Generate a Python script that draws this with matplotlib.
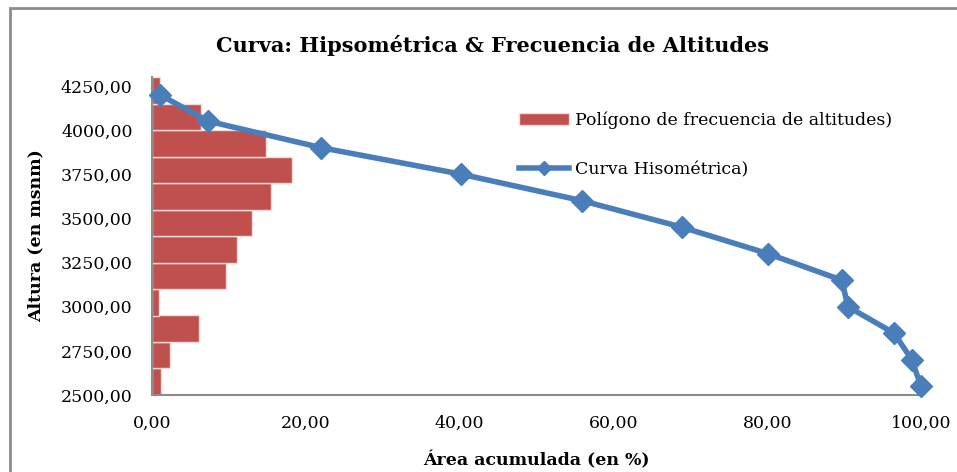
import numpy as np
import matplotlib.pyplot as plt
from matplotlib.patches import Rectangle
from matplotlib.ticker import FuncFormatter

# bins de altitud (centro de cada franja de 150 m) y % de area en cada una
alt_bins = [2575, 2725, 2875, 3025, 3175, 3325, 3475, 3625, 3775, 3925, 4075, 4225]
frec_pct = [1.2, 2.4, 6.1, 0.9, 9.6, 11.1, 13.0, 15.5, 18.2, 14.8, 6.4, 1.0]

# curva hipsometrica
area_acum = [1.0, 7.3, 22.0, 40.2, 55.9, 68.9, 80.1, 89.7, 90.5, 96.5, 98.8, 100.0]
altura = [4200, 4050, 3900, 3750, 3600, 3450, 3300, 3150, 3000, 2850, 2700, 2550]

yticks = [2500, 2750, 3000, 3250, 3500, 3750, 4000, 4250]
xticks = [0, 20, 40, 60, 80, 100]

plt.rcParams['font.family'] = ['DejaVu Serif']

W, H = 957, 472
fig = plt.figure(figsize=(W / 100, H / 100), dpi=100)

# marco del grafico
fig.patches.append(Rectangle((10 / W, -0.1), 1.2, 1 - 8 / H + 0.1,
                             transform=fig.transFigure, fill=False,
                             edgecolor='#8c8c8c', linewidth=2))

ax = fig.add_axes([152 / W, 1 - 395 / H, (921 - 152) / W, (395 - 77) / H])

bars = ax.barh(alt_bins, frec_pct, height=150, color='#c0504d', edgecolor='#f2dcdb',
               linewidth=1.0, label='Polígono de frecuencia de altitudes)')
line, = ax.plot(area_acum, altura, color='#4a7ebb', linewidth=4, marker='D',
                markersize=11, label='Curva Hisométrica)', zorder=3, clip_on=False)

ax.set_xlim(0, 100)
ax.set_ylim(2500, 4300)
ax.set_xticks(xticks)
ax.set_yticks(yticks)
fmt = FuncFormatter(lambda v, p: f'{v:.2f}'.replace('.', ','))
ax.xaxis.set_major_formatter(fmt)
ax.yaxis.set_major_formatter(fmt)
ax.tick_params(axis='y', length=0, labelsize=12.5, pad=14)
ax.tick_params(axis='x', length=0, labelsize=12.5, pad=14)

for s in ['top', 'right']:
    ax.spines[s].set_visible(False)
for s in ['left', 'bottom']:
    ax.spines[s].set_color('#8c8c8c')
    ax.spines[s].set_linewidth(1.5)

ax.set_xlabel('Área acumulada (en %)', fontsize=12.5, fontweight='bold', labelpad=14)
ax.set_ylabel('Altura (en msnm)', fontsize=12.5, fontweight='bold', labelpad=12)
fig.text(492 / W, 1 - 45 / H, 'Curva: Hipsométrica & Frecuencia de Altitudes',
         ha='center', va='center', fontsize=15, fontweight='bold')

leg = ax.legend([bars, line], [bars.get_label(), line.get_label()],
                loc='upper left', bbox_to_anchor=(0.457, 0.94), frameon=False,
                fontsize=12.5, handlelength=2.9, labelspacing=1.85, handletextpad=0.35)
leg.legend_handles[1].set_markersize(7)

fig.savefig('out.png', dpi=100)
